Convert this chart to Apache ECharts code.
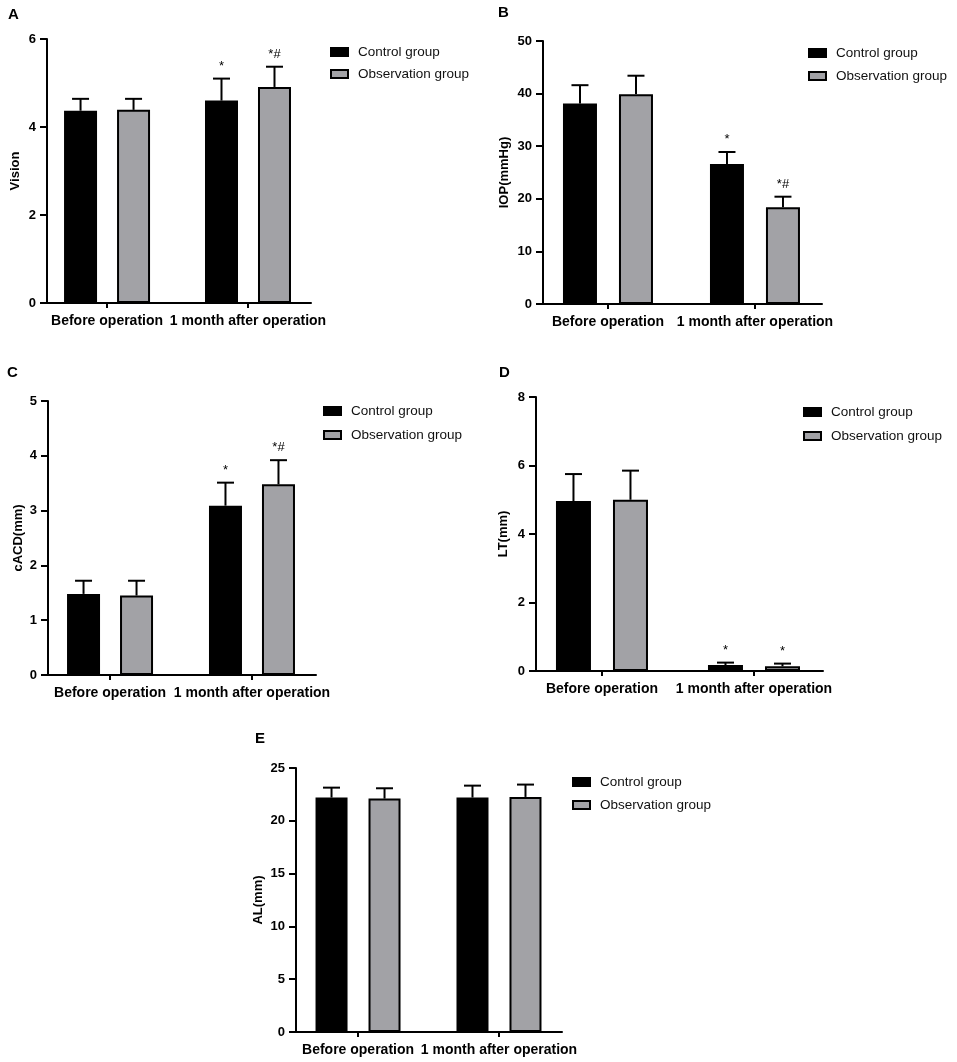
<!DOCTYPE html>
<html>
<head>
<meta charset="utf-8">
<script src="https://cdn.jsdelivr.net/npm/echarts@6/dist/echarts.min.js"></script>
<style>
  html, body { margin: 0; padding: 0; background: #fff; }
  #main { width: 957px; height: 1062px; }
</style>
</head>
<body>
<div id="main"></div>
<script>
// categories and group names
const categories = ['Before operation', '1 month after operation'];
const groupNames = ['Control group', 'Observation group'];

// A - Vision
const visionControl = [4.37, 4.60];
const visionControlSd = [0.27, 0.50];
const visionObs = [4.39, 4.91];
const visionObsSd = [0.25, 0.46];
const visionSig = [['', '*'], ['', '*#']];

// B - IOP(mmHg)
const iopControl = [38.1, 26.6];
const iopControlSd = [3.5, 2.3];
const iopObs = [39.9, 18.4];
const iopObsSd = [3.5, 2.0];
const iopSig = [['', '*'], ['', '*#']];

// C - cACD(mm)
const cacdControl = [1.48, 3.09];
const cacdControlSd = [0.24, 0.42];
const cacdObs = [1.45, 3.48];
const cacdObsSd = [0.27, 0.44];
const cacdSig = [['', '*'], ['', '*#']];

// D - LT(mm)
const ltControl = [4.96, 0.175];
const ltControlSd = [0.79, 0.07];
const ltObs = [5.00, 0.136];
const ltObsSd = [0.85, 0.08];
const ltSig = [['', '*'], ['', '*']];

// E - AL(mm)
const alControl = [22.20, 22.20];
const alControlSd = [0.94, 1.13];
const alObs = [22.10, 22.26];
const alObsSd = [0.98, 1.17];
const alSig = [['', ''], ['', '']];

const FONT = 'Arial, "Liberation Sans", sans-serif';
const GRAY = '#a2a2a6';

// panel layout (pixels)
const panels = [
  { label: 'A', yName: 'Vision', yMax: 6, yStep: 2, ctrl: visionControl, ctrlSd: visionControlSd, obs: visionObs, obsSd: visionObsSd, sig: visionSig,
    grid: { left: 47, top: 39, width: 264, height: 264 }, xMin: -0.426, xMax: 1.447, barW: 35, gap: 18,
    nameGap: 25, title: { left: 8, top: 7 }, legend: { left: 330, top: 45, itemGap: 8 } },
  { label: 'B', yName: 'IOP(mmHg)', yMax: 50, yStep: 10, ctrl: iopControl, ctrlSd: iopControlSd, obs: iopObs, obsSd: iopObsSd, sig: iopSig,
    grid: { left: 543, top: 41, width: 279, height: 263 }, xMin: -0.442, xMax: 1.456, barW: 36, gap: 20,
    nameGap: 32, title: { left: 498, top: 5 }, legend: { left: 808, top: 46, itemGap: 9 } },
  { label: 'C', yName: 'cACD(mm)', yMax: 5, yStep: 1, ctrl: cacdControl, ctrlSd: cacdControlSd, obs: cacdObs, obsSd: cacdObsSd, sig: cacdSig,
    grid: { left: 48, top: 401, width: 268, height: 274 }, xMin: -0.437, xMax: 1.451, barW: 35, gap: 18,
    nameGap: 23, title: { left: 7, top: 365 }, legend: { left: 323, top: 404, itemGap: 10 } },
  { label: 'D', yName: 'LT(mm)', yMax: 8, yStep: 2, ctrl: ltControl, ctrlSd: ltControlSd, obs: ltObs, obsSd: ltObsSd, sig: ltSig,
    grid: { left: 536, top: 397, width: 287, height: 274 }, xMin: -0.434, xMax: 1.454, barW: 37, gap: 20,
    nameGap: 26, title: { left: 499, top: 365 }, legend: { left: 803, top: 405, itemGap: 10 } },
  { label: 'E', yName: 'AL(mm)', yMax: 25, yStep: 5, ctrl: alControl, ctrlSd: alControlSd, obs: alObs, obsSd: alObsSd, sig: alSig,
    grid: { left: 296, top: 768, width: 266, height: 264 }, xMin: -0.44, xMax: 1.447, barW: 34, gap: 19,
    nameGap: 31, title: { left: 255, top: 731 }, legend: { left: 572, top: 775, itemGap: 9 } }
];

let chartDom = document.getElementById('main');
let myChart = echarts.init(chartDom);

let titles = [], grids = [], xAxes = [], yAxes = [], legends = [], series = [];

panels.forEach(function (p, k) {
  titles.push({
    text: p.label, left: p.title.left, top: p.title.top, padding: 0,
    textStyle: { fontFamily: FONT, fontSize: 15, fontWeight: 'bold', color: '#000' }
  });
  grids.push(p.grid);
  xAxes.push({
    type: 'value', gridIndex: k, min: p.xMin, max: p.xMax,
    axisLine: { show: true, onZero: false, lineStyle: { color: '#000', width: 2 } },
    axisTick: { show: true, customValues: [0, 1], length: 5, lineStyle: { color: '#000', width: 2 } },
    axisLabel: {
      customValues: [0, 1], margin: 11, color: '#000', fontFamily: FONT, fontSize: 14, fontWeight: 'bold',
      formatter: function (v) { return categories[Math.round(v)]; }
    },
    splitLine: { show: false }
  });
  yAxes.push({
    type: 'value', gridIndex: k, min: 0, max: p.yMax, interval: p.yStep,
    name: p.yName, nameLocation: 'middle', nameRotate: 90, nameGap: p.nameGap,
    nameTextStyle: { fontFamily: FONT, fontSize: 13, fontWeight: 'bold', color: '#000' },
    axisLine: { show: true, onZero: false, lineStyle: { color: '#000', width: 2 } },
    axisTick: { show: true, length: 7, lineStyle: { color: '#000', width: 2 } },
    axisLabel: { margin: 11, color: '#000', fontFamily: FONT, fontSize: 13, fontWeight: 'bold' },
    splitLine: { show: false }
  });
  legends.push({
    left: p.legend.left, top: p.legend.top, itemGap: p.legend.itemGap, orient: 'vertical', padding: 0,
    itemWidth: 17, itemHeight: 8, icon: 'rect', selectedMode: false,
    data: groupNames,
    textStyle: { fontFamily: FONT, fontSize: 13.5, color: '#111', lineHeight: 14, padding: [0, 0, 0, 5] }
  });

  const fillW = p.barW - 2;
  const barGap = ((p.gap + 2) / fillW * 100).toFixed(1) + '%';
  series.push({
    name: groupNames[0], type: 'bar', xAxisIndex: k, yAxisIndex: k,
    barWidth: fillW, barGap: barGap,
    itemStyle: { color: '#000', borderColor: '#000', borderWidth: 2 },
    data: p.ctrl.map(function (v, i) { return [i, v]; })
  });
  series.push({
    name: groupNames[1], type: 'bar', xAxisIndex: k, yAxisIndex: k,
    barWidth: fillW, barGap: barGap,
    itemStyle: { color: GRAY, borderColor: '#000', borderWidth: 2 },
    data: p.obs.map(function (v, i) { return [i, v]; })
  });

  // error bars (mean + SD) and significance marks
  let errData = [];
  categories.forEach(function (c, i) {
    errData.push([i, p.ctrl[i], p.ctrlSd[i], 0]);
    errData.push([i, p.obs[i], p.obsSd[i], 1]);
  });
  series.push({
    name: 'sd-' + p.label, type: 'custom', xAxisIndex: k, yAxisIndex: k, z: 5,
    data: errData,
    renderItem: function (params, api) {
      const x = api.value(0), mean = api.value(1), sd = api.value(2), g = api.value(3);
      const base = api.coord([x, mean]);
      const top = api.coord([x, mean + sd]);
      const cx = base[0] + (g === 0 ? -1 : 1) * (p.barW + p.gap) / 2;
      const children = [
        { type: 'line', shape: { x1: cx, y1: base[1], x2: cx, y2: top[1] }, style: { stroke: '#000', lineWidth: 2 } },
        { type: 'line', shape: { x1: cx - 8.5, y1: top[1], x2: cx + 8.5, y2: top[1] }, style: { stroke: '#000', lineWidth: 2 } }
      ];
      const mark = p.sig[g][x];
      if (mark) {
        children.push({
          type: 'text', x: cx, y: top[1] - 6,
          style: { text: mark, fill: '#000', font: '13px ' + FONT, align: 'center', verticalAlign: 'bottom' }
        });
      }
      return { type: 'group', children: children };
    }
  });
});

let option = {
  animation: false,
  backgroundColor: '#fff',
  title: titles,
  grid: grids,
  xAxis: xAxes,
  yAxis: yAxes,
  legend: legends,
  series: series
};

myChart.setOption(option, true);

window.addEventListener('resize', () => {
  myChart.resize();
});
</script>
</body>
</html>
